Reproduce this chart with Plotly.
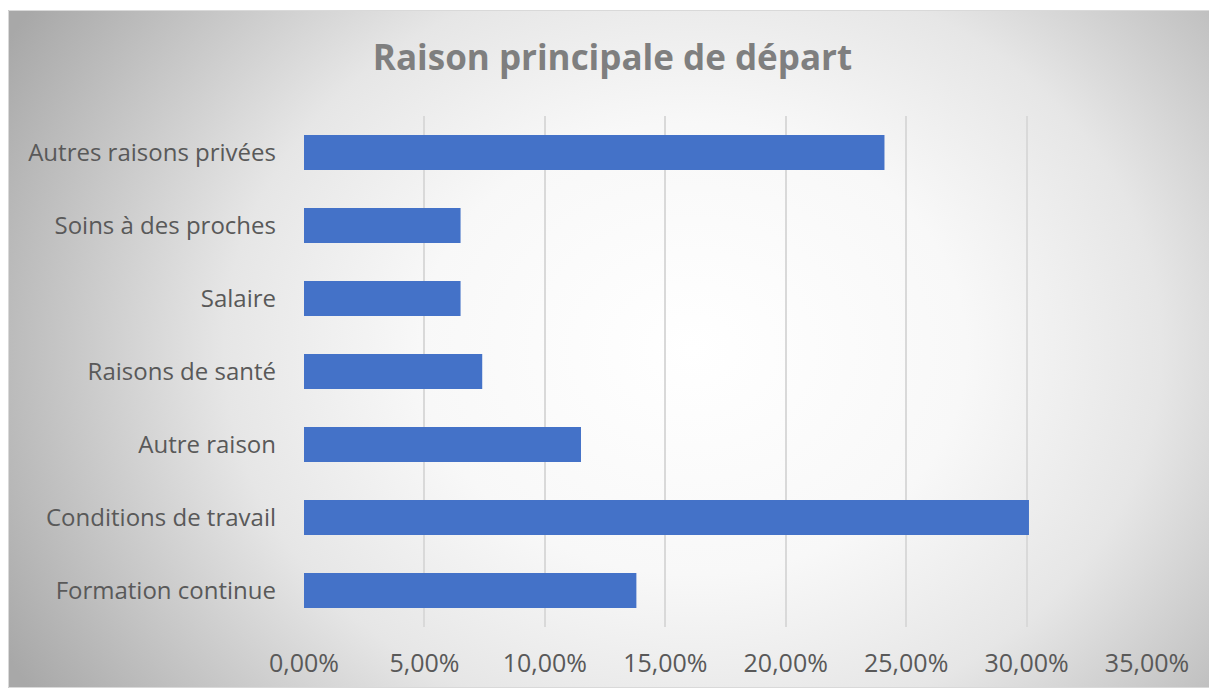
import plotly.graph_objects as go
import base64

categories = ["Formation continue", "Conditions de travail", "Autre raison",
              "Raisons de santé", "Salaire", "Soins à des proches",
              "Autres raisons privées"]
values = [0.138, 0.301, 0.115, 0.074, 0.065, 0.065, 0.241]
x_ticks = [0, 0.05, 0.10, 0.15, 0.20, 0.25, 0.30, 0.35]

# page body has an 8px margin; figure coordinates = screen - 8
W, H = 1209, 682
L, R, T, B = 296, 70, 108, 63
pw, ph = W - L - R, H - T - B
def px(x): return (x - L) / pw
def py(y): return (H - B - y) / ph

BX0, BX1, BY0, BY1 = 0, 1202, 2, 680   # chart box in figure px
bw, bh = BX1 - BX0, BY1 - BY0
svg = ('<svg xmlns="http://www.w3.org/2000/svg" width="%d" height="%d" viewBox="0 0 %d %d" preserveAspectRatio="none">'
       '<defs><radialGradient id="g" gradientUnits="userSpaceOnUse" cx="0" cy="0" r="1" '
       'gradientTransform="translate(%d %d) scale(%d %d)">'
       '<stop offset="0" stop-color="#ffffff"/><stop offset="0.35" stop-color="#f8f8f8"/>'
       '<stop offset="0.6" stop-color="#e6e6e6"/><stop offset="1" stop-color="#a8a8a8"/>'
       '</radialGradient></defs>'
       '<rect x="0" y="0" width="%d" height="%d" fill="url(#g)"/></svg>') % (
    bw, bh, bw, bh, int(0.57 * bw), int(0.5 * bh), int(0.65 * bw), int(0.95 * bh), bw, bh)
src = "data:image/svg+xml;base64," + base64.b64encode(svg.encode()).decode()

fig = go.Figure(go.Bar(
    x=values, y=categories, orientation="h",
    marker=dict(color="#4472c8", line=dict(width=0)),
    width=0.48,
))

fig.update_layout(
    width=W, height=H,
    margin=dict(l=L, r=R, t=T, b=B),
    paper_bgcolor="white", plot_bgcolor="rgba(0,0,0,0)",
    separators=", ",
    showlegend=False,
    title=dict(text="<b>Raison principale de départ</b>", x=0.5, xref="container",
               xanchor="center", y=1 - 50 / H, yanchor="middle",
               font=dict(family="Open Sans", size=35, color="#7f7f7f")),
    font=dict(family="Open Sans", color="#595959"),
    images=[dict(source=src, xref="paper", yref="paper",
                 x=px(BX0), y=py(BY0), sizex=px(BX1) - px(BX0), sizey=py(BY0) - py(BY1),
                 xanchor="left", yanchor="top", sizing="stretch", layer="below")],
    shapes=[dict(type="rect", xref="paper", yref="paper",
                 x0=px(BX0 + 0.5), x1=px(BX1 - 0.5), y0=py(BY1 - 0.5), y1=py(BY0 + 0.5),
                 line=dict(color="#d9d9d9", width=1), layer="below")],
)
fig.update_xaxes(range=[0, 0.35], tickvals=x_ticks, tickformat=".2%",
                 showgrid=True, gridcolor="#d9d9d9", gridwidth=1.5,
                 zeroline=False, showline=False,
                 tickfont=dict(size=25, color="#595959"), ticklabelstandoff=19)
fig.update_yaxes(categoryorder="array", categoryarray=categories,
                 showgrid=False, showline=False,
                 tickfont=dict(size=24, color="#595959"), ticklabelstandoff=27)

fig.write_html("out.html")
